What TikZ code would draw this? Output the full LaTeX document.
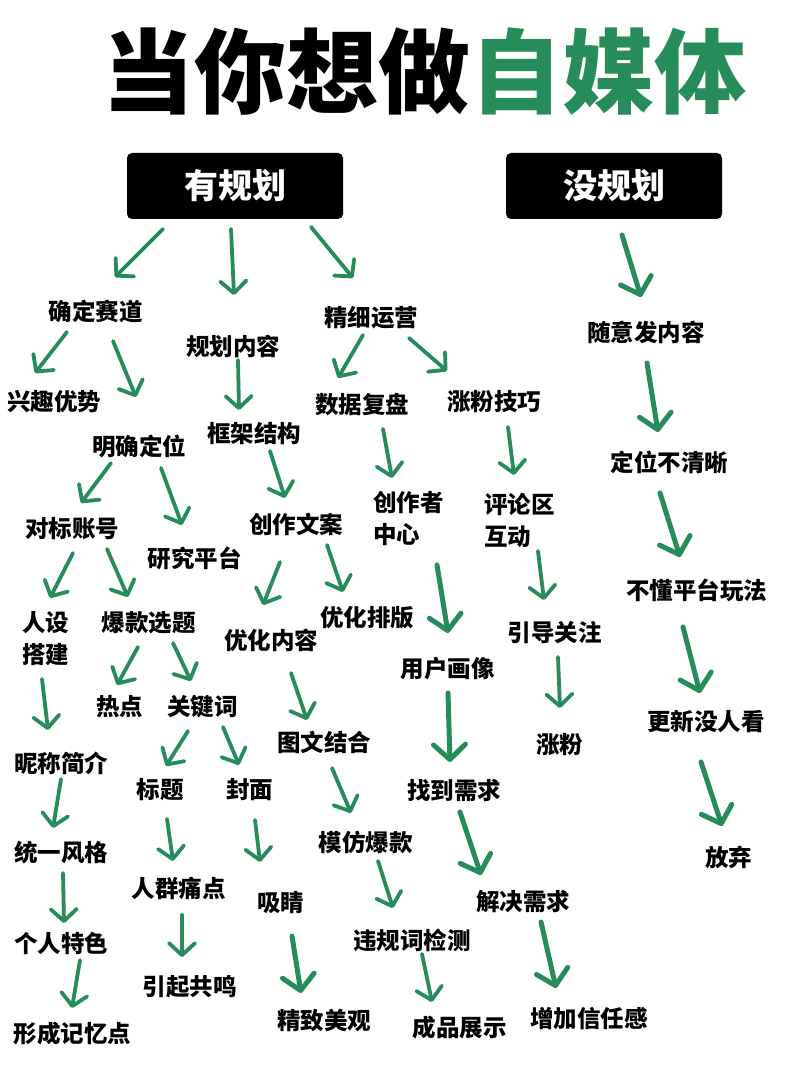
\documentclass[tikz,border=0pt]{standalone}
\usepackage{fontspec}
\newfontfamily\cjk{Noto Sans CJK SC}
\newfontfamily\cjkblack{Noto Sans CJK SC Black}
\usetikzlibrary{arrows.meta}
\definecolor{grn}{HTML}{268C5A}
\tikzset{
  lbl/.style={font={\cjk\bfseries\fontsize{23.5}{32}\selectfont}, inner sep=0pt},
  plan/.style={fill=black, rounded corners=5pt, minimum width=216pt, minimum height=66pt,
    text=white, font={\cjk\bfseries\fontsize{34}{40}\selectfont}},
  arr/.style={draw=grn, line width=3.8pt, line cap=round,
    -{Straight Barb[round, length=12pt, width=26pt]}},
  bigarr/.style={draw=grn, line width=5pt, line cap=round,
    -{Straight Barb[round, length=15pt, width=32pt]}}
}
\begin{document}
\begin{tikzpicture}[x=1pt,y=-1pt]
      \useasboundingbox (0,0) rectangle (800,1067);
      \def \Nodes {
        qdsd/95.5/312/确定赛道, ghnr/233/346/规划内容, jxyy/371/318/精细运营,
        sjfnr/646/332/随意发内容, xqys/54/402/兴趣优势, sjfp/362/405/数据复盘,
        zfjq/494/402/涨粉技巧, mqdw/139/446/明确定位, kjjg/254/434/框架结构,
        dwbqx/669.5/462/定位不清晰, dbzh/72/529/对标账号, yjpt/194.5/558/研究平台,
        czwa/296/524/创作文案, bdptwf/696.5/590/不懂平台玩法, bkxt/148.5/623/爆款选题,
        yhnr/271/640/优化内容, yhpb/367/618/优化排版, yhhx/447.5/669/用户画像,
        ydgz/554.5/633/引导关注, gxmrk/706/722/更新没人看, rd/119.5/707/热点,
        gjc/202.5/707/关键词, twjh/324/742/图文结合, ncjj/61/763/昵称简介,
        zf/559.5/745/涨粉, bt/160/790/标题, fm/249.5/790/封面, zdxq/454/790/找到需求,
        mfbk/365.5/842/模仿爆款, tyfg/61/853/统一风格, fq/728.5/857/放弃,
        rqtd/178.5/888/人群痛点, xj/280.5/903/吸睛, jjxq/523/902/解决需求,
        wgcjc/412/940/违规词检测, grts/61/943/个人特色, yqgm/189.5/987/引起共鸣,
        jzmg/324/1020/精致美观, cpzs/459.5/1028/成品展示, zjxrg/589/1019/增加信任感,
        xcjyd/72.5/1034/形成记忆点}
      \def \Edges {
        yghb.center/-72/43/qdsd.center/19.5/-35/arr,
        yghb.center/-4/43/ghnr.center/1/-51/arr,
        yghb.center/76/41/jxyy.center/-18/-40/arr,
        mghb.center/8/49/sjfnr.center/-5/-35/bigarr,
        qdsd.center/-28.5/20/xqys.center/-19/-29/arr,
        qdsd.center/17.5/29/mqdw.center/-3/-49/arr,
        ghnr.center/5/14/kjjg.center/-15/-24/arr,
        jxyy.center/-8/17/sjfp.center/-24/-27/arr,
        jxyy.center/38/20/zfjq.center/-47/-31/arr,
        sjfp.center/21/24/czzx.west/19/-41/arr,
        zfjq.center/14/25/plqhd.west/30/-46/arr,
        sjfnr.center/1/31/dwbqx.center/-11.5/-30/bigarr,
        mqdw.center/-28/17/dbzh.center/9/-26/arr,
        mqdw.center/22/22/yjpt.center/-12.5/-33/arr,
        kjjg.center/16/17/czwa.center/-11/-26/arr,
        dwbqx.center/-9.5/31/bdptwf.center/-16.5/-33/bigarr,
        dbzh.center/1/24/rsdj.west/28/-41/arr,
        dbzh.center/35/20/bkxt.center/-20.5/-26/arr,
        czwa.center/-16/38/yhnr.center/-8/-35/arr,
        czwa.center/31/21/yhpb.center/-24/-26/arr,
        czzx.west/64/46/yhhx.center/0.5/-36/bigarr,
        plqhd.west/54/30/ydgz.center/-10.5/-33/arr,
        bdptwf.center/-13.5/37/gxmrk.center/-6/-29/bigarr,
        rsdj.west/20/40/ncjj.center/-13/-33/arr,
        bkxt.center/-10.5/24/rd.center/-2.5/-22/arr,
        bkxt.center/24.5/20/gjc.center/-11.5/-26/arr,
        yhnr.center/20/33/twjh.center/-17/-22/arr,
        yhhx.center/0.5/24/zdxq.center/-4/-28/bigarr,
        ydgz.center/3.5/24/zf.center/0.5/-37/arr,
        gxmrk.center/-5/40/fq.center/-6.5/-31/bigarr,
        gjc.center/-14.5/24/bt.center/6/-24/arr,
        gjc.center/20.5/20/fm.center/-10.5/-25/arr,
        ncjj.center/0/16/tyfg.center/-8/-25/arr,
        twjh.center/8/26/mfbk.center/-14.5/-29/arr,
        zdxq.center/6/22/jjxq.center/-42/-27/bigarr,
        bt.center/7/29/rqtd.center/-5.5/-27/arr,
        fm.center/5.5/30/xj.center/-20.5/-41/arr,
        tyfg.center/2/20/grts.center/3/-20/arr,
        mfbk.center/12.5/19/wgcjc.center/-19/-32/arr,
        rqtd.center/3.5/27/yqgm.center/-7.5/-30/arr,
        grts.center/19/17/xcjyd.center/-0.5/-26/arr,
        xj.center/11.5/33/jzmg.center/-23/-27/bigarr,
        wgcjc.center/10/14/cpzs.center/-27.5/-26/arr,
        jjxq.center/18/20/zjxrg.center/-33/-31/bigarr}

      % title and the two heads
      \node[inner sep=0pt, font={\cjkblack\fontsize{92}{96}\selectfont}] (title) at (424,72)
        {当你想做\textcolor{grn}{自媒体}};
      \node[plan] (yghb) at (235,186) {有规划};
      \node[plan] (mghb) at (614,186) {没规划};

      \foreach \id / \x / \y / \w in \Nodes {
        \node[lbl] (\id) at (\x, \y) {\w};
      }
      % two-line labels
      \node[lbl, align=left, anchor=west] (czzx) at (373,519) {创作者\\中心};
      \node[lbl, align=left, anchor=west] (plqhd) at (484,521) {评论区\\互动};
      \node[lbl, align=left, anchor=west] (rsdj) at (22,639) {人设\\搭建};

      \foreach \s / \sx / \sy / \t / \tx / \ty / \st in \Edges {
        \draw[\st] ([shift={(\sx,\sy)}]\s) -- ([shift={(\tx,\ty)}]\t);
      }
    \end{tikzpicture}
\end{document}
